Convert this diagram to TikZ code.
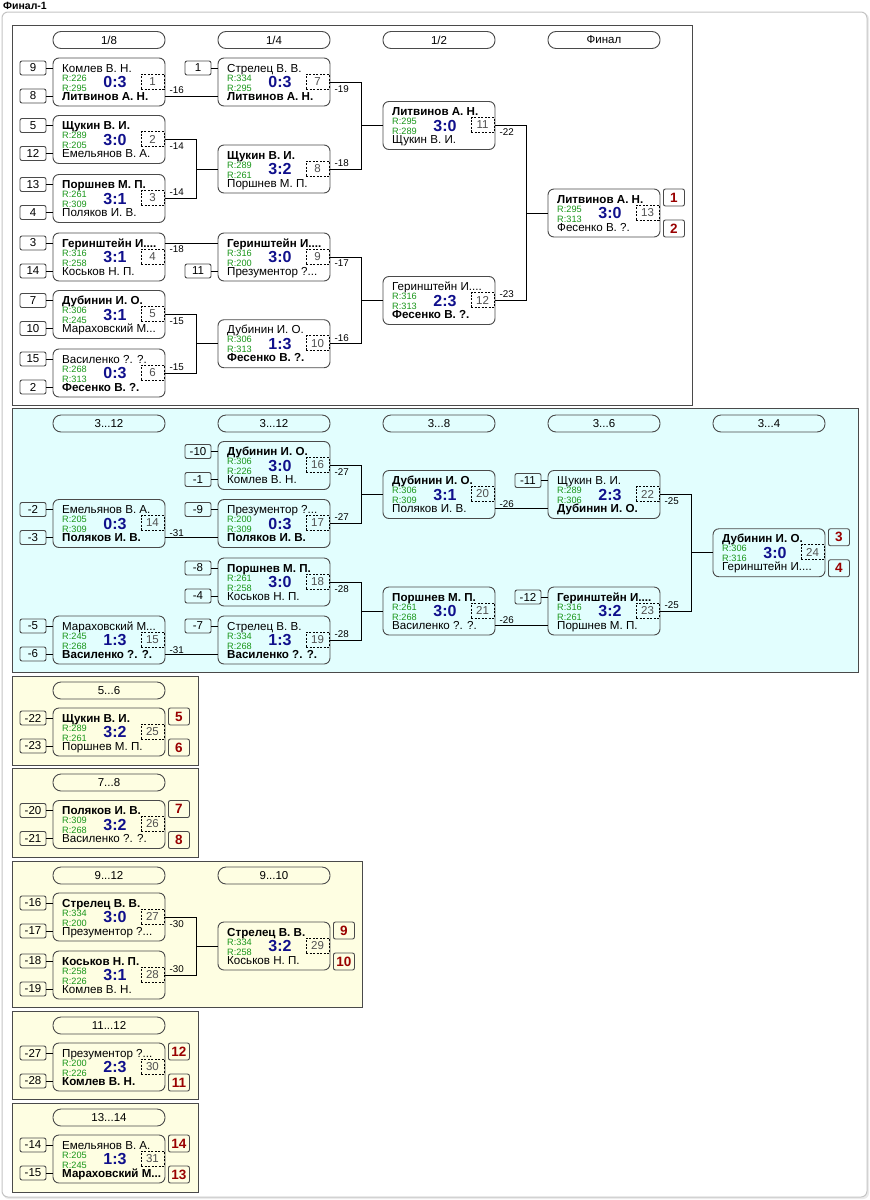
\documentclass[tikz,border=0pt]{standalone}
\usepackage{fontspec}
\setmainfont{Liberation Sans}
\usetikzlibrary{calc}
\definecolor{bgray}{HTML}{4A4A4A}
\definecolor{wgray}{HTML}{C4C4C4}
\definecolor{rgreen}{HTML}{1A961A}
\definecolor{scblue}{HTML}{10108C}
\definecolor{rankred}{HTML}{990000}
\definecolor{numgray}{HTML}{505050}
\definecolor{bluebg}{HTML}{E2FEFE}
\definecolor{yelbg}{HTML}{FEFEE2}
\tikzset{
  mbox/.style={draw=bgray, line width=0.9pt, rounded corners=6pt, minimum width=112pt, minimum height=48pt, inner sep=0pt},
  pill/.style={draw=bgray, line width=0.9pt, rounded corners=8pt, minimum width=112pt, minimum height=17pt, inner sep=0pt, font=\fontsize{11.5}{13}\selectfont},
  seed/.style={draw=bgray, line width=0.9pt, rounded corners=2pt, minimum width=26pt, minimum height=14pt, inner sep=0pt, font=\fontsize{11.5}{13}\selectfont},
  rank/.style={draw=bgray, line width=0.9pt, rounded corners=2pt, minimum width=21pt, minimum height=17pt, inner sep=0pt, font=\bfseries\fontsize{13.5}{15}\selectfont, text=rankred},
  nbox/.style={draw=black, line width=0.8pt, dash pattern=on 2pt off 1.5pt, minimum width=23pt, minimum height=15pt, inner sep=0pt, text=numgray, font=\fontsize{11.5}{13}\selectfont},
  nm/.style={inner sep=0pt, anchor=base west, font=\fontsize{11.6}{13}\selectfont},
  rt/.style={inner sep=0pt, anchor=base west, text=rgreen, font=\fontsize{9.2}{10}\selectfont},
  sc/.style={inner sep=0pt, anchor=base, text=scblue, font=\bfseries\fontsize{16}{17}\selectfont},
  xl/.style={inner sep=0pt, anchor=west, font=\fontsize{9.8}{11}\selectfont},
  conn/.style={draw=black, line width=0.9pt},
  panel/.style={draw=bgray, line width=0.9pt},
}
\newcommand\mmatch[8]{%
  \node[mbox] (m#1) at ({#2+56},{#3}) {};
  \coordinate (m#1t) at (#2,{#3-14});
  \coordinate (m#1b) at (#2,{#3+14});
  \node[nm] (m#1na) at ({#2+9},{#3-10}) {#4};
  \node[rt] (m#1ra) at ({#2+9},{#3-1}) {R:#5};
  \node[rt] (m#1rb) at ({#2+9},{#3+9}) {R:#6};
  \node[nm] (m#1nb) at ({#2+9},{#3+18}) {#7};
  \node[sc] (m#1sc) at ({#2+62},{#3+5.5}) {#8};
  \node[nbox] (m#1nr) at ({#2+99.5},{#3-0.5}) {#1};
}
\newcommand\mseed[4]{%
  \node[seed] (#1) at ($(m#2#3)+(-20,0)$) {#4};
  \draw[conn] (#1) -- (m#2#3);
}
\newcommand\mrank[4]{%
  \node[rank] (#1) at ($(m#2.east)+(13.5,#3)$) {#4};
}
\newcommand\mexit[3]{%
  \node[xl] (e#1) at ($(m#1.east)+(4,#2)$) {#3};
}
\newcommand\mbracket[3]{%
  \coordinate (j#3) at ($(m#3.west)+(-21,0)$);
  \draw[conn] (m#1.east) -| (j#3) -- (m#3.west);
  \draw[conn] (m#2.east) -| (j#3);
}
\newcommand\mstraight[2]{%
  \draw[conn] (m#1.east |- #2) -- (#2);
}
\begin{document}
\begin{tikzpicture}[x=1pt,y=-1pt]
\useasboundingbox (0,0) rectangle (870,1200);
\fill[white] (0,0) rectangle (870,1200);
% window
\fill[black!8, rounded corners=6pt] (3,13) rectangle (869,1199);
\draw[wgray, fill=white, line width=1pt, rounded corners=6pt] (2,12) rectangle (867,1197);
\node[anchor=base west, inner sep=0pt, font=\bfseries\fontsize{10.5}{12}\selectfont] (title) at (3,9.5) {Финал-1};
% panels
\draw[panel, fill=white] (12,25) rectangle (692,405);
\draw[panel, fill=bluebg] (12,408) rectangle (858,672);
\draw[panel, fill=yelbg] (12,676) rectangle (198,765);
\draw[panel, fill=yelbg] (12,768) rectangle (198,857);
\draw[panel, fill=yelbg] (12,861) rectangle (362,1007);
\draw[panel, fill=yelbg] (12,1011) rectangle (198,1099);
\draw[panel, fill=yelbg] (12,1103) rectangle (198,1192);
% headers
\node[pill] (h1) at (109,40) {1/8};
\node[pill] (h2) at (274,40) {1/4};
\node[pill] (h3) at (439,40) {1/2};
\node[pill] (h4) at (604,40) {Финал};
\node[pill] (h5) at (109,423.5) {3...12};
\node[pill] (h6) at (274,423.5) {3...12};
\node[pill] (h7) at (439,423.5) {3...8};
\node[pill] (h8) at (604,423.5) {3...6};
\node[pill] (h9) at (769,423.5) {3...4};
\node[pill] (h10) at (109,690.5) {5...6};
\node[pill] (h11) at (109,782.5) {7...8};
\node[pill] (h12) at (109,875.5) {9...12};
\node[pill] (h13) at (274,875.5) {9...10};
\node[pill] (h14) at (109,1025.5) {11...12};
\node[pill] (h15) at (109,1117.5) {13...14};
% ---------- main bracket
\mmatch{1}{53}{82}{Комлев В. Н.}{226}{295}{\bfseries Литвинов А. Н.}{0:3}
\mmatch{2}{53}{139.5}{\bfseries Щукин В. И.}{289}{205}{Емельянов В. А.}{3:0}
\mmatch{3}{53}{198.5}{\bfseries Поршнев М. П.}{261}{309}{Поляков И. В.}{3:1}
\mmatch{4}{53}{257}{\bfseries Геринштейн И....}{316}{258}{Коськов Н. П.}{3:1}
\mmatch{5}{53}{314.5}{\bfseries Дубинин И. О.}{306}{245}{Мараховский М...}{3:1}
\mmatch{6}{53}{373}{Василенко ?. ?.}{268}{313}{\bfseries Фесенко В. ?.}{0:3}
\mmatch{7}{218}{82}{Стрелец В. В.}{334}{295}{\bfseries Литвинов А. Н.}{0:3}
\mmatch{8}{218}{169}{\bfseries Щукин В. И.}{289}{261}{Поршнев М. П.}{3:2}
\mmatch{9}{218}{257}{\bfseries Геринштейн И....}{316}{200}{Презументор ?...}{3:0}
\mmatch{10}{218}{343.75}{Дубинин И. О.}{306}{313}{\bfseries Фесенко В. ?.}{1:3}
\mmatch{11}{383}{125.5}{\bfseries Литвинов А. Н.}{295}{289}{Щукин В. И.}{3:0}
\mmatch{12}{383}{300.5}{Геринштейн И....}{316}{313}{\bfseries Фесенко В. ?.}{2:3}
\mmatch{13}{548}{213}{\bfseries Литвинов А. Н.}{295}{313}{Фесенко В. ?.}{3:0}
\mseed{s1}{1}{t}{9}\mseed{s2}{1}{b}{8}
\mseed{s3}{2}{t}{5}\mseed{s4}{2}{b}{12}
\mseed{s5}{3}{t}{13}\mseed{s6}{3}{b}{4}
\mseed{s7}{4}{t}{3}\mseed{s8}{4}{b}{14}
\mseed{s9}{5}{t}{7}\mseed{s10}{5}{b}{10}
\mseed{s11}{6}{t}{15}\mseed{s12}{6}{b}{2}
\mseed{s13}{7}{t}{1}
\mseed{s14}{9}{b}{11}
\mstraight{1}{m7b}
\mbracket{2}{3}{8}
\mstraight{4}{m9t}
\mbracket{5}{6}{10}
\mbracket{7}{8}{11}
\mbracket{9}{10}{12}
\mbracket{11}{12}{13}
\mexit{1}{8}{-16}
\mexit{2}{7}{-14}\mexit{3}{-6}{-14}
\mexit{4}{-8}{-18}
\mexit{5}{7}{-15}\mexit{6}{-6}{-15}
\mexit{7}{7}{-19}\mexit{8}{-6}{-18}
\mexit{9}{6}{-17}\mexit{10}{-6}{-16}
\mexit{11}{7}{-22}\mexit{12}{-6}{-23}
\mrank{k1}{13}{-15.5}{1}\mrank{k2}{13}{15.5}{2}
% ---------- 3..12
\mmatch{14}{53}{523.5}{Емельянов В. А.}{205}{309}{\bfseries Поляков И. В.}{0:3}
\mmatch{15}{53}{640}{Мараховский М...}{245}{268}{\bfseries Василенко ?. ?.}{1:3}
\mmatch{16}{218}{465.5}{\bfseries Дубинин И. О.}{306}{226}{Комлев В. Н.}{3:0}
\mmatch{17}{218}{523.5}{Презументор ?...}{200}{309}{\bfseries Поляков И. В.}{0:3}
\mmatch{18}{218}{582}{\bfseries Поршнев М. П.}{261}{258}{Коськов Н. П.}{3:0}
\mmatch{19}{218}{640}{Стрелец В. В.}{334}{268}{\bfseries Василенко ?. ?.}{1:3}
\mmatch{20}{383}{494.5}{\bfseries Дубинин И. О.}{306}{309}{Поляков И. В.}{3:1}
\mmatch{21}{383}{611}{\bfseries Поршнев М. П.}{261}{268}{Василенко ?. ?.}{3:0}
\mmatch{22}{548}{494.5}{Щукин В. И.}{289}{306}{\bfseries Дубинин И. О.}{2:3}
\mmatch{23}{548}{611}{\bfseries Геринштейн И....}{316}{261}{Поршнев М. П.}{3:2}
\mmatch{24}{713}{552.75}{\bfseries Дубинин И. О.}{306}{316}{Геринштейн И....}{3:0}
\mseed{s15}{14}{t}{-2}\mseed{s16}{14}{b}{-3}
\mseed{s17}{15}{t}{-5}\mseed{s18}{15}{b}{-6}
\mseed{s19}{16}{t}{-10}\mseed{s20}{16}{b}{-1}
\mseed{s21}{17}{t}{-9}
\mseed{s22}{18}{t}{-8}\mseed{s23}{18}{b}{-4}
\mseed{s24}{19}{t}{-7}
\mseed{s25}{22}{t}{-11}
\mseed{s26}{23}{t}{-12}
\mstraight{14}{m17b}
\mstraight{15}{m19b}
\mbracket{16}{17}{20}
\mbracket{18}{19}{21}
\mstraight{20}{m22b}
\mstraight{21}{m23b}
\mbracket{22}{23}{24}
\mexit{14}{9.5}{-31}\mexit{15}{10}{-31}
\mexit{16}{7}{-27}\mexit{17}{-6}{-27}
\mexit{18}{7}{-28}\mexit{19}{-6}{-28}
\mexit{20}{9.5}{-26}\mexit{21}{9.5}{-26}
\mexit{22}{7}{-25}\mexit{23}{-6}{-25}
\mrank{k3}{24}{-15.5}{3}\mrank{k4}{24}{15.5}{4}
% ---------- 5..6 / 7..8
\mmatch{25}{53}{732}{\bfseries Щукин В. И.}{289}{261}{Поршнев М. П.}{3:2}
\mseed{s27}{25}{t}{-22}\mseed{s28}{25}{b}{-23}
\mrank{k5}{25}{-15.5}{5}\mrank{k6}{25}{15.5}{6}
\mmatch{26}{53}{824.5}{\bfseries Поляков И. В.}{309}{268}{Василенко ?. ?.}{3:2}
\mseed{s29}{26}{t}{-20}\mseed{s30}{26}{b}{-21}
\mrank{k7}{26}{-15.5}{7}\mrank{k8}{26}{15.5}{8}
% ---------- 9..12
\mmatch{27}{53}{917}{\bfseries Стрелец В. В.}{334}{200}{Презументор ?...}{3:0}
\mmatch{28}{53}{975}{\bfseries Коськов Н. П.}{258}{226}{Комлев В. Н.}{3:1}
\mmatch{29}{218}{946}{\bfseries Стрелец В. В.}{334}{258}{Коськов Н. П.}{3:2}
\mseed{s31}{27}{t}{-16}\mseed{s32}{27}{b}{-17}
\mseed{s33}{28}{t}{-18}\mseed{s34}{28}{b}{-19}
\mbracket{27}{28}{29}
\mexit{27}{7}{-30}\mexit{28}{-6}{-30}
\mrank{k9}{29}{-15.5}{9}\mrank{k10}{29}{15.5}{10}
% ---------- 11..12
\mmatch{30}{53}{1067}{Презументор ?...}{200}{226}{\bfseries Комлев В. Н.}{2:3}
\mseed{s35}{30}{t}{-27}\mseed{s36}{30}{b}{-28}
\mrank{k12}{30}{-15.5}{12}\mrank{k11}{30}{15.5}{11}
% ---------- 13..14
\mmatch{31}{53}{1159}{Емельянов В. А.}{205}{245}{\bfseries Мараховский М...}{1:3}
\mseed{s37}{31}{t}{-14}\mseed{s38}{31}{b}{-15}
\mrank{k14}{31}{-15.5}{14}\mrank{k13}{31}{15.5}{13}
\end{tikzpicture}
\end{document}
